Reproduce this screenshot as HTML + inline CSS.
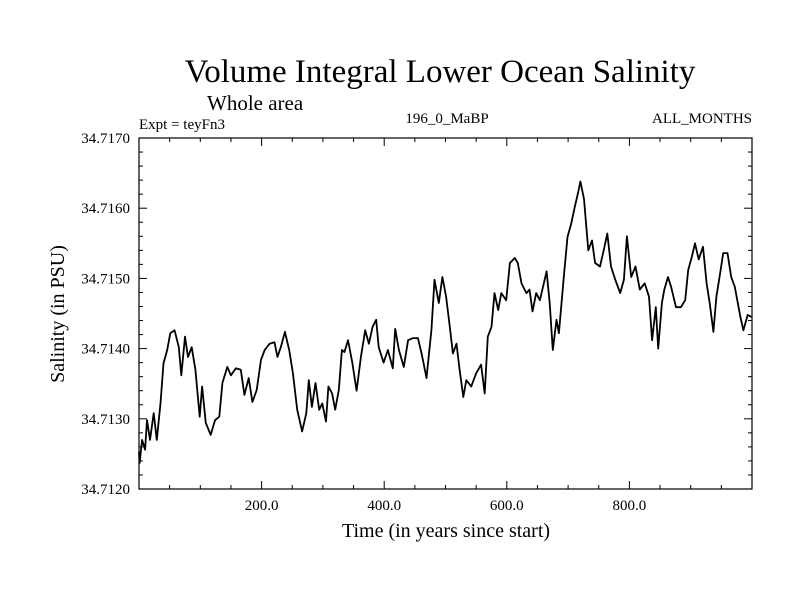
<!DOCTYPE html>
<html><head><meta charset="utf-8"><style>
body{margin:0;background:#fff}
svg text{font-family:"Liberation Serif",serif;fill:#000}
</style></head><body>
<svg id="chart" width="800" height="600" xmlns="http://www.w3.org/2000/svg">
<text x="440" y="82" font-size="33" text-anchor="middle">Volume Integral Lower Ocean Salinity</text>
<text x="207" y="110" font-size="21">Whole area</text>
<text x="139" y="129" font-size="15">Expt = teyFn3</text>
<text x="447" y="123" font-size="15" text-anchor="middle">196_0_MaBP</text>
<text x="752" y="123" font-size="15" text-anchor="end">ALL_MONTHS</text>
<text x="446" y="537" font-size="20" text-anchor="middle">Time (in years since start)</text>
<text x="0" y="0" font-size="20" text-anchor="middle" transform="translate(64,314) rotate(-90)">Salinity (in PSU)</text>
<g id="axes"></g>
<g id="series"></g>
<rect x="139" y="138" width="613" height="351" fill="none" stroke="#000" stroke-width="1.2"/>
</svg>
<script>
const years=[0,1,5,10,13,18,24,29,35,40,46,51,58,65,69,75,80,86,92,99,103,109,117,124,131,136,144,150,158,166,172,179,185,192,199,205,213,221,226,232,238,245,251,258,266,273,277,282,288,294,299,305,309,315,320,326,331,335,341,348,355,362,369,375,381,387,391,399,406,414,418,424,432,439,447,455,461,469,477,482,489,495,501,507,512,518,523,529,534,542,550,558,564,569,575,580,586,591,599,605,613,618,624,632,637,642,648,654,659,665,670,675,681,685,693,699,705,711,716,720,726,733,739,744,752,758,764,770,777,785,791,796,803,810,817,825,832,837,843,847,853,857,863,868,876,884,891,896,902,907,913,920,926,931,937,942,948,953,960,966,972,981,986,993,999];
const salinity=[34.71253,34.71237,34.71270,34.71256,34.71298,34.71270,34.71308,34.71270,34.71322,34.71379,34.71398,34.71422,34.71426,34.71402,34.71362,34.71417,34.71388,34.71402,34.71370,34.71303,34.71346,34.71294,34.71277,34.71298,34.71303,34.71351,34.71374,34.71362,34.71372,34.71370,34.71334,34.71358,34.71324,34.71341,34.71384,34.71398,34.71407,34.71409,34.71388,34.71404,34.71424,34.71398,34.71365,34.71313,34.71282,34.71308,34.71355,34.71317,34.71351,34.71313,34.71322,34.71296,34.71346,34.71336,34.71313,34.71341,34.71398,34.71395,34.71412,34.71380,34.71340,34.71388,34.71426,34.71407,34.71431,34.71441,34.71402,34.71380,34.71398,34.71372,34.71428,34.71398,34.71374,34.71412,34.71415,34.71415,34.71393,34.71358,34.71426,34.71498,34.71465,34.71502,34.71474,34.71431,34.71393,34.71407,34.71370,34.71331,34.71355,34.71346,34.71365,34.71377,34.71336,34.71417,34.71431,34.71479,34.71455,34.71479,34.71469,34.71522,34.71529,34.71522,34.71493,34.71479,34.71484,34.71453,34.71479,34.71469,34.71488,34.71510,34.71465,34.71398,34.71441,34.71422,34.71502,34.71559,34.71578,34.71602,34.71621,34.71638,34.71613,34.71540,34.71554,34.71522,34.71517,34.71540,34.71564,34.71517,34.71498,34.71479,34.71498,34.71560,34.71502,34.71517,34.71484,34.71493,34.71474,34.71412,34.71459,34.71400,34.71465,34.71484,34.71502,34.71488,34.71459,34.71459,34.71469,34.71512,34.71531,34.71550,34.71527,34.71545,34.71493,34.71465,34.71424,34.71474,34.71507,34.71536,34.71536,34.71502,34.71488,34.71445,34.71426,34.71448,34.71445];
const xTickValues=[200,400,600,800];
const xTickLabels=["200.0","400.0","600.0","800.0"];
const yTickValues=[34.712,34.713,34.714,34.715,34.716,34.717];
const yTickLabels=["34.7120","34.7130","34.7140","34.7150","34.7160","34.7170"];
const X0=139,X1=752,Y0=489,Y1=138,xMin=0,xMax=1000,yMin=34.712,yMax=34.717;
function xs(v){return X0+(v-xMin)/(xMax-xMin)*(X1-X0);}
function ys(v){return Y0-(v-yMin)/(yMax-yMin)*(Y0-Y1);}
const NS="http://www.w3.org/2000/svg";
const axes=document.getElementById('axes');
function ln(x1,y1,x2,y2,name){const l=document.createElementNS(NS,'line');
l.setAttribute('x1',x1);l.setAttribute('y1',y1);l.setAttribute('x2',x2);l.setAttribute('y2',y2);
l.setAttribute('stroke','#000');l.setAttribute('stroke-width','1');


axes.appendChild(l);}
for(let v=50;v<1000;v+=50){const x=xs(v);const L=(v%200===0)?8:4;ln(x,Y0,x,Y0-L,'x-tick');ln(x,Y1,x,Y1+L,'x-tick-top');}
for(let i=1;i<25;i++){const v=yMin+i*0.0002;const y=ys(v);const L=(i%5===0)?8:4;ln(X0,y,X0+L,y,'y-tick');ln(X1,y,X1-L,y,'y-tick-right');}
xTickValues.forEach((v,i)=>{const t=document.createElementNS(NS,'text');
t.setAttribute('x',xs(v));t.setAttribute('y',510);t.setAttribute('font-size','15');t.setAttribute('text-anchor','middle');
t.textContent=xTickLabels[i];


axes.appendChild(t);});
yTickValues.forEach((v,i)=>{const t=document.createElementNS(NS,'text');
t.setAttribute('x',130);t.setAttribute('y',ys(v)+5);t.setAttribute('font-size','15');t.setAttribute('text-anchor','end');
t.textContent=yTickLabels[i];


axes.appendChild(t);});
const p=document.createElementNS(NS,'polyline');
p.setAttribute('points',years.map((y,i)=>xs(y).toFixed(1)+','+ys(salinity[i]).toFixed(1)).join(' '));
p.setAttribute('fill','none');p.setAttribute('stroke','#000');p.setAttribute('stroke-width','1.8');p.setAttribute('stroke-linejoin','round');


document.getElementById('series').appendChild(p);
</script>
</body></html>
